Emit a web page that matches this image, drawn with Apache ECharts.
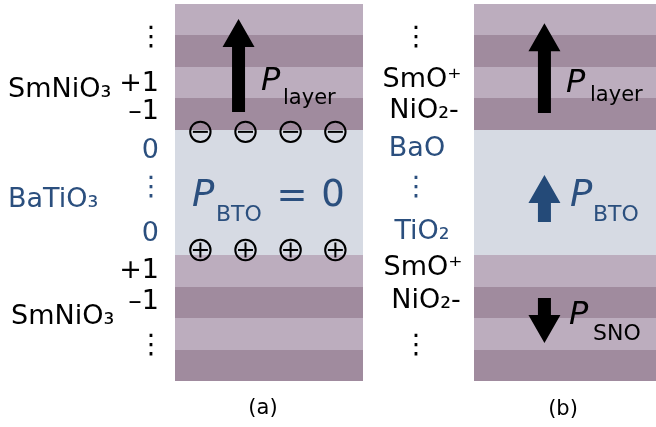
<!DOCTYPE html>
<html>
<head>
<meta charset="utf-8">
<script src="https://cdn.jsdelivr.net/npm/echarts@6/dist/echarts.min.js"></script>
<style>
  html, body { margin: 0; padding: 0; background: #ffffff; }
  #chart { width: 656px; height: 427px; }
</style>
</head>
<body>
<div id="chart"></div>
<script>
// Layer stack, listed from the bottom of the film to the top
const layerKinds = [
  'snoDark', 'snoLight', 'snoDark', 'snoLight',
  'bto', 'bto', 'bto', 'bto',
  'snoDark', 'snoLight', 'snoDark', 'snoLight'
];

// Bound interface charges in panel (a): horizontal positions and layer levels
const chargeX = [13.5, 37.5, 61.5, 85.3];
const negChargeLevel = 7.93;
const posChargeLevel = 4.17;

// Polarisation arrows: [x, tail level, tip level, kind]
const arrowsA = [[33.8, 8.56, 11.52, 'sno']];
const arrowsB = [
  [38.7, 8.53, 11.39, 'sno'],
  [38.7, 5.06, 6.56, 'bto'],
  [38.7, 2.64, 1.21, 'sno']
];

// Side annotations
const sideLabelsA = ['⋮', '+1', '–1', '0', '⋮', '0', '+1', '–1', '⋮'];
const filmNamesA = ['SmNiO₃', 'BaTiO₃', 'SmNiO₃'];
const sideLabelsB = ['⋮', 'SmO⁺', 'NiO₂-', 'BaO', '⋮', 'TiO₂', 'SmO⁺', 'NiO₂-', '⋮'];
const panelTitles = ['(a)', '(b)'];

const FONT = '"DejaVu Sans", "Noto Sans", sans-serif';
const BLUE = '#2b4f7e';
const ARROW_BLUE = '#244a78';
const COLORS = { snoDark: '#a08b9e', snoLight: '#bcadbe', bto: '#d6dae3' };

const chart = echarts.init(document.getElementById('chart'), null, { renderer: 'canvas' });

function bandSeries(gridIndex) {
  return {
    type: 'custom',
    xAxisIndex: gridIndex,
    yAxisIndex: gridIndex,
    data: layerKinds.map((k, i) => [i]),
    silent: true,
    renderItem: function (params, api) {
      const i = api.value(0);
      const cs = params.coordSys;
      // snap to whole pixels so neighbouring layers meet without seams
      const yBottom = Math.round(api.coord([0, i])[1]);
      const yTop = Math.round(api.coord([0, i + 1])[1]);
      return {
        type: 'rect',
        shape: { x: Math.round(cs.x), y: yTop, width: Math.round(cs.width), height: yBottom - yTop },
        style: { fill: COLORS[layerKinds[params.dataIndex]] }
      };
    }
  };
}

function arrowSeries(gridIndex, arrows) {
  return {
    type: 'custom',
    xAxisIndex: gridIndex,
    yAxisIndex: gridIndex,
    data: arrows.map(a => [a[0], a[1], a[2]]),
    silent: true,
    z: 5,
    renderItem: function (params, api) {
      const tail = api.coord([api.value(0), api.value(1)]);
      const tip = api.coord([api.value(0), api.value(2)]);
      const dir = tip[1] < tail[1] ? -1 : 1;
      const headLen = 28, headHalf = 16, shaftHalf = 6.5;
      const x = tail[0];
      const hb = tip[1] - dir * headLen;
      const kind = arrows[params.dataIndex][3];
      return {
        type: 'polygon',
        shape: {
          points: [
            [x - shaftHalf, tail[1]], [x - shaftHalf, hb], [x - headHalf, hb],
            [x, tip[1]],
            [x + headHalf, hb], [x + shaftHalf, hb], [x + shaftHalf, tail[1]]
          ]
        },
        style: { fill: kind === 'bto' ? ARROW_BLUE : '#000000' }
      };
    }
  };
}

const chargeData = chargeX.map(x => [x, negChargeLevel, -1])
  .concat(chargeX.map(x => [x, posChargeLevel, 1]));

const chargeSeries = {
  type: 'custom',
  xAxisIndex: 0,
  yAxisIndex: 0,
  data: chargeData,
  silent: true,
  z: 6,
  renderItem: function (params, api) {
    const c = api.coord([api.value(0), api.value(1)]);
    const r = 10.2;
    const s = 7.5;
    const children = [
      { type: 'circle', shape: { cx: c[0], cy: c[1], r: r },
        style: { fill: 'none', stroke: '#000', lineWidth: 2 } },
      { type: 'line', shape: { x1: c[0] - s, y1: c[1], x2: c[0] + s, y2: c[1] },
        style: { stroke: '#000', lineWidth: 2 } }
    ];
    if (api.value(2) > 0) {
      children.push({ type: 'line', shape: { x1: c[0], y1: c[1] - s, x2: c[0], y2: c[1] + s },
        style: { stroke: '#000', lineWidth: 2 } });
    }
    return { type: 'group', children: children };
  }
};

function txt(text, x, y, size, color, align, italic) {
  return {
    type: 'text',
    x: x, y: y,
    z: 10,
    silent: true,
    style: {
      text: text,
      fill: color,
      font: (italic ? 'italic ' : '') + size + 'px ' + FONT,
      textAlign: align, align: align,
      textVerticalAlign: 'middle', verticalAlign: 'middle'
    }
  };
}

// Positions for the side annotations of panel (a): [x, y, align, blue?]
const sideLayoutA = [
  [151, 38, 'center', false],
  [159, 84, 'right', false],
  [159, 112, 'right', false],
  [159, 151, 'right', true],
  [151, 188, 'center', true],
  [159, 234, 'right', true],
  [159, 271, 'right', false],
  [159, 302, 'right', false],
  [151, 346, 'center', false]
];
const filmLayoutA = [[8, 89.5, false], [8, 200, true], [11, 316.5, false]];
const sideLayoutB = [
  [416, 38, false], [422, 80, false], [424, 111, false], [417, 149, true],
  [416, 188, true], [422, 232, true], [423, 268, false], [426, 301, false], [416, 346, false]
];

const graphics = [];
sideLabelsA.forEach((t, i) => {
  const L = sideLayoutA[i];
  graphics.push(txt(t, L[0], L[1], 27, L[3] ? BLUE : '#000', L[2]));
});
filmNamesA.forEach((t, i) => {
  const L = filmLayoutA[i];
  graphics.push(txt(t, L[0], L[1], 27, L[2] ? BLUE : '#000', 'left'));
});
sideLabelsB.forEach((t, i) => {
  const L = sideLayoutB[i];
  graphics.push(txt(t, L[0], L[1], 27, L[2] ? BLUE : '#000', 'center'));
});

// Polarisation symbols
graphics.push(txt('P', 261, 82, 32, '#000', 'left', true));
graphics.push(txt('layer', 283, 99, 21, '#000', 'left'));
graphics.push(txt('P', 192, 196, 37, BLUE, 'left', true));
graphics.push(txt('BTO', 216, 215, 22, BLUE, 'left'));
graphics.push(txt('=', 292, 197, 37, BLUE, 'center'));
graphics.push(txt('0', 333, 196, 37, BLUE, 'center'));

graphics.push(txt('P', 566, 84, 32, '#000', 'left', true));
graphics.push(txt('layer', 590, 96, 21, '#000', 'left'));
graphics.push(txt('P', 570, 196, 37, BLUE, 'left', true));
graphics.push(txt('BTO', 593, 215, 22, BLUE, 'left'));
graphics.push(txt('P', 569, 316, 32, '#000', 'left', true));
graphics.push(txt('SNO', 593, 334, 22, '#000', 'left'));

graphics.push(txt(panelTitles[0], 263, 409, 21, '#000', 'center'));
graphics.push(txt(panelTitles[1], 563, 410, 21, '#000', 'center'));

const hiddenAxis = { show: false };

chart.setOption({
  animation: false,
  backgroundColor: '#ffffff',
  grid: [
    { left: 175, top: 4, width: 188, height: 377 },
    { left: 474, top: 4, width: 182, height: 377 }
  ],
  xAxis: [
    Object.assign({ type: 'value', gridIndex: 0, min: 0, max: 100 }, hiddenAxis),
    Object.assign({ type: 'value', gridIndex: 1, min: 0, max: 100 }, hiddenAxis)
  ],
  yAxis: [
    Object.assign({ type: 'value', gridIndex: 0, min: 0, max: 12 }, hiddenAxis),
    Object.assign({ type: 'value', gridIndex: 1, min: 0, max: 12 }, hiddenAxis)
  ],
  series: [
    bandSeries(0),
    bandSeries(1),
    arrowSeries(0, arrowsA),
    arrowSeries(1, arrowsB),
    chargeSeries
  ],
  graphic: graphics
});
</script>
</body>
</html>
